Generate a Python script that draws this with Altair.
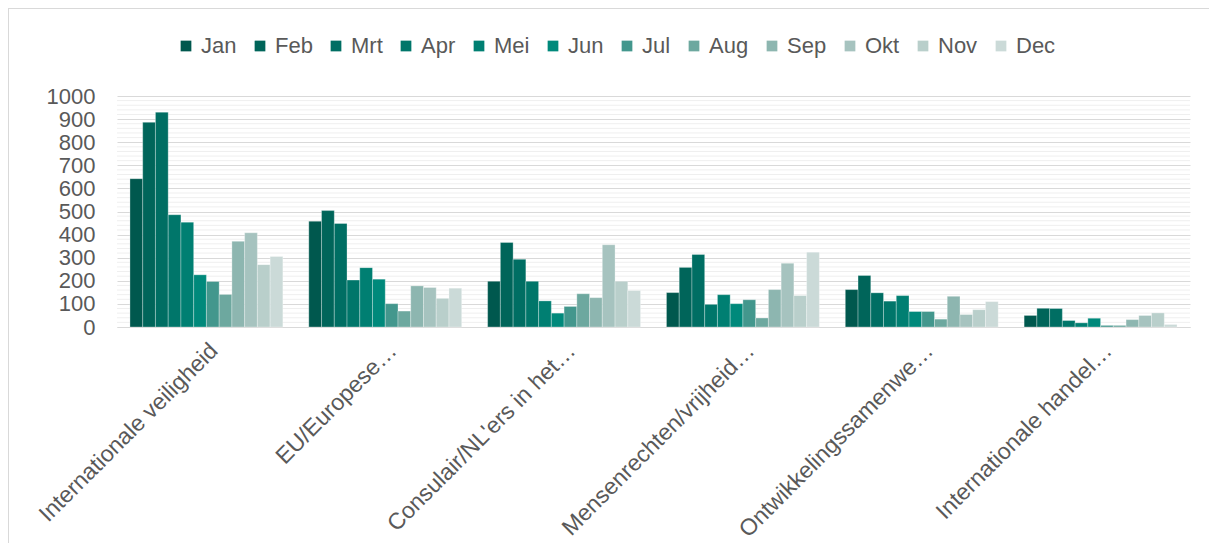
import altair as alt
import pandas as pd

categories = [
    "Internationale veiligheid",
    "EU/Europese…",
    "Consulair/NL'ers in het…",
    "Mensenrechten/vrijheid…",
    "Ontwikkelingssamenwe…",
    "Internationale handel…",
]
months = ["Jan", "Feb", "Mrt", "Apr", "Mei", "Jun", "Jul", "Aug", "Sep", "Okt", "Nov", "Dec"]

internationale_veiligheid = [642, 886, 930, 486, 454, 226, 197, 141, 371, 408, 270, 305]
eu_europese = [458, 504, 448, 203, 257, 207, 101, 69, 178, 171, 124, 168]
consulair = [198, 366, 293, 198, 113, 60, 89, 144, 127, 356, 198, 158]
mensenrechten = [149, 258, 314, 98, 140, 101, 118, 39, 162, 276, 136, 324]
ontwikkeling = [162, 223, 148, 112, 136, 67, 67, 34, 133, 54, 75, 110]
internationale_handel = [50, 81, 80, 28, 18, 38, 7, 7, 32, 50, 61, 11]

series = [internationale_veiligheid, eu_europese, consulair, mensenrechten, ontwikkeling, internationale_handel]

colors = ["#00584e", "#00655a", "#006e63", "#00766a", "#007f72", "#00897b",
          "#43978d", "#6da89f", "#8db6b0", "#a6c3bf", "#b9cfcb", "#cbdad8"]

rows = []
for c, vals in zip(categories, series):
    for m, v in zip(months, vals):
        rows.append({"Categorie": c, "Maand": m, "Aantal": v})
df = pd.DataFrame(rows)

minor = pd.DataFrame({"v": [v for v in range(20, 1000, 20) if v % 100]})

FONT = "Liberation Sans"
GRAY = "#595959"

y_scale = alt.Scale(domain=[0, 1000], nice=False)
y_axis = alt.Axis(values=list(range(0, 1001, 100)), format="d", labelOverlap=False,
                  gridColor="#d9d9d9", domain=False, ticks=False, labelFontSize=22,
                  labelColor=GRAY, labelFont=FONT, labelPadding=22)

grid = alt.Chart(minor).mark_rule(color="#efefef", strokeWidth=1).encode(
    y=alt.Y("v:Q", title=None, scale=y_scale, axis=y_axis)
)

bars = alt.Chart(df).mark_bar(stroke="white", strokeWidth=0.6, strokeOpacity=0.5).encode(
    x=alt.X(
        "Categorie:N", sort=categories, title=None,
        scale=alt.Scale(paddingInner=0.145, paddingOuter=0.0725),
        axis=alt.Axis(labelAngle=-45, labelAlign="right", labelBaseline="top",
                      labelFontSize=23, labelColor=GRAY, labelFont=FONT, ticks=False,
                      domain=True, domainColor="#d9d9d9", labelPadding=12, labelLimit=400),
    ),
    xOffset=alt.XOffset("Maand:N", sort=months, scale=alt.Scale(paddingInner=0, paddingOuter=0)),
    y=alt.Y("Aantal:Q", title=None, scale=y_scale, axis=y_axis),
    color=alt.Color(
        "Maand:N", sort=months,
        scale=alt.Scale(domain=months, range=colors),
        legend=alt.Legend(title=None, orient="none", legendX=58, legendY=-61,
                          direction="horizontal", columns=12, symbolType="square",
                          symbolSize=115, symbolStrokeWidth=0, labelFontSize=22,
                          labelColor=GRAY, labelFont=FONT, labelOffset=4,
                          columnPadding=12),
    ),
)

one = pd.DataFrame({"a": [0]})
border_top = alt.Chart(one).mark_rule(color="#d9d9d9").encode(
    x=alt.value(-108), x2=alt.value(1100), y=alt.value(-87.5)
)
border_left = alt.Chart(one).mark_rule(color="#d9d9d9").encode(
    x=alt.value(-108.5), y=alt.value(-88), y2=alt.value(460)
)

chart = alt.layer(grid, bars, border_top, border_left).properties(
    width=1073, height=231,
    autosize=alt.AutoSizeParams(type="none"),
    padding={"left": 109, "top": 88, "right": 19, "bottom": 216},
).configure_view(strokeWidth=0)

chart.save("out.html", embed_options={"renderer": "svg", "actions": False})
